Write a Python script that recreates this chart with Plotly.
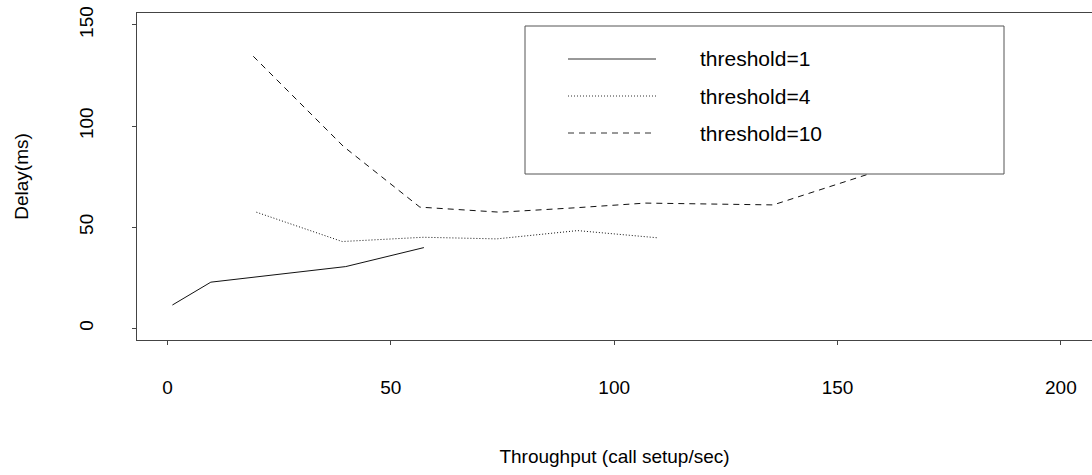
import plotly.graph_objects as go

# ---- data ----
t1_x = [1.1, 9.7, 39.9, 57.4]
t1_y = [11.5, 22.8, 30.5, 39.9]

t4_x = [19.9, 39.1, 57.3, 73.7, 91.8, 109.9]
t4_y = [57.4, 42.9, 45.0, 44.2, 48.3, 44.7]

t10_x = [19.2, 39.4, 56.5, 74.4, 91.5, 107.0, 135.6, 165.0, 185.0]
t10_y = [134.5, 89.9, 59.9, 57.4, 59.6, 61.9, 61.0, 82.0, 98.0]

series_names = ["threshold=1", "threshold=4", "threshold=10"]
x_ticks = [0, 50, 100, 150, 200]
y_ticks = [0, 50, 100, 150]

FONT = "Liberation Sans, Arial, Helvetica, sans-serif"
W, H = 1092, 475
L, T, B = 137, 13, 340  # plot-area pixel edges
R = W

def px(x):
    return (x - L) / (R - L)

def py(y):
    return (B - y) / (B - T)

fig = go.Figure()
dashes = ["solid", "1px,2px", "6px,5px"]
for xs, ys, nm, d in zip([t1_x, t4_x, t10_x], [t1_y, t4_y, t10_y], series_names, dashes):
    fig.add_trace(go.Scatter(x=xs, y=ys, mode="lines", name=nm,
                             line=dict(color="#111111", width=1, dash=d),
                             showlegend=False, hoverinfo="skip", cliponaxis=True))

# custom legend box (covers lines underneath like base-R legend)
fig.add_shape(type="rect", xref="paper", yref="paper",
              x0=px(525), x1=px(1004), y0=py(174), y1=py(26),
              fillcolor="white", line=dict(color="#555555", width=1), layer="above")
rows = [59, 96, 133]
for nm, d, r in zip(series_names, dashes, rows):
    fig.add_shape(type="line", xref="paper", yref="paper",
                  x0=px(568), x1=px(656), y0=py(r), y1=py(r),
                  line=dict(color="#333333", width=1, dash=d), layer="above")
    fig.add_annotation(xref="paper", yref="paper", x=px(698), y=py(r),
                       text=nm, showarrow=False, xanchor="left", yanchor="middle",
                       font=dict(family=FONT, size=21, color="black"))

fig.update_layout(
    width=W, height=H,
    margin=dict(l=L, r=W - R, t=T, b=H - B, pad=0, autoexpand=False),
    paper_bgcolor="white", plot_bgcolor="white",
    font=dict(family=FONT, size=19, color="black"),
    hovermode=False,
    xaxis=dict(range=[-6.83, 206.97], tickvals=x_ticks, ticktext=[str(v) for v in x_ticks],
               automargin=False,
               showgrid=False, zeroline=False, showline=True, linecolor="#444444",
               linewidth=1, mirror=True, ticks="outside", ticklen=4, tickcolor="#444444",
               ticklabelstandoff=26,
               title=dict(text="Throughput (call setup/sec)", standoff=52,
                          font=dict(size=19))),
    yaxis=dict(range=[-5.8, 155.9], tickvals=y_ticks, ticktext=[str(v) for v in y_ticks],
               automargin=False,
               showgrid=False, zeroline=False, showline=True, linecolor="#444444",
               linewidth=1, mirror=False, ticks="outside", ticklen=4, tickcolor="#444444",
               tickangle=-90, ticklabelstandoff=31,
               title=dict(text="Delay(ms)", standoff=42, font=dict(size=19))),
)

fig.write_html("out.html", config={"displayModeBar": False},
               post_script="document.body.style.margin='0';document.body.style.overflow='hidden';")
